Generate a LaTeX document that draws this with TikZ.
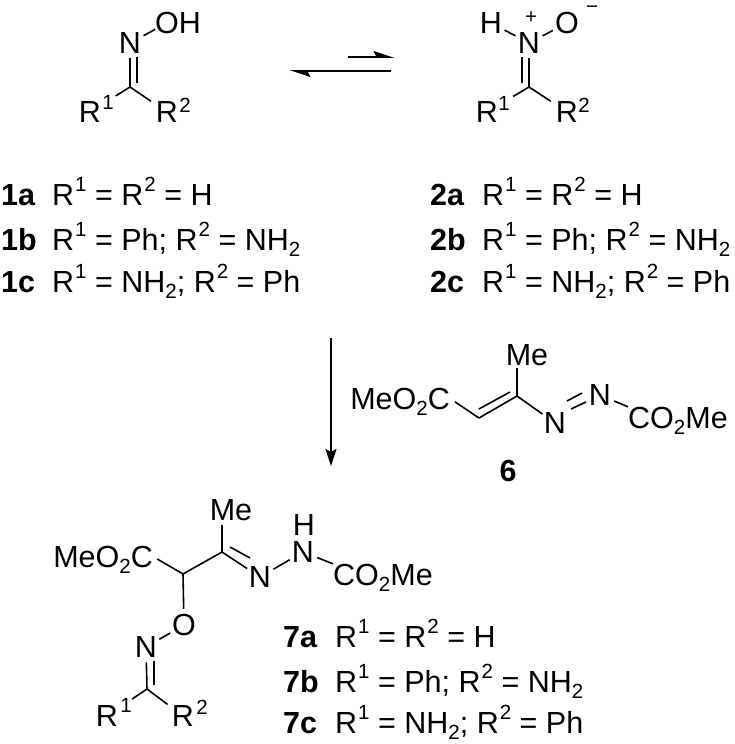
\documentclass[tikz,border=0pt]{standalone}
\usepackage{fontspec}
\setmainfont{Liberation Sans}
\usetikzlibrary{arrows.meta}
\newcommand\up[1]{\raisebox{.44em}{\kern1pt\fontsize{20.5}{22}\selectfont #1}}
\newcommand\dn[1]{\raisebox{-.22em}{\fontsize{20.5}{22}\selectfont #1}}
\tikzset{
  bond/.style={line width=1.6pt},
  atom/.style={circle,inner sep=0pt,text height=21pt,text depth=0pt,font=\fontsize{30.5}{36}\selectfont},
  txt/.style={inner sep=0pt,text height=21pt,text depth=0pt,font=\fontsize{30.5}{36}\selectfont},
  lab/.style={inner sep=0pt,anchor=base west,font=\fontsize{30.5}{36}\selectfont},
  cmp/.style={inner sep=0pt,anchor=base west,font=\fontsize{30.5}{36}\selectfont\bfseries},
  supr/.style={inner sep=0pt,font=\fontsize{20.5}{22}\selectfont},
  toRa/.style={bond,shorten >=15pt},
  toRb/.style={bond,shorten >=4pt},
  arrow/.style={line width=1.6pt,-{Stealth[length=17pt,width=11pt,inset=3pt]}},
  harp/.style={line width=1.6pt,-{Stealth[harpoon,length=18pt,width=12pt,inset=3pt]}},
}
\begin{document}
\begin{tikzpicture}[x=1pt,y=-1pt]
\useasboundingbox (0,0) rectangle (735,744);
% structure 1
\node[atom] (n1) at (130,43) {N};
\node[atom] (oh1) at (178,23) {OH};
\coordinate (o1x) at (165,24);
\coordinate (c1) at (130,87);
\coordinate (c1b) at (137,83);
\coordinate (n1b) at (137,43);
\node[atom] (r1a) at (90,112) {R};
\node[supr] (r1as) at (108,102) {1};
\node[atom] (r1b) at (167,112) {R};
\node[supr] (r1bs) at (185,105) {2};
\draw[bond,shorten >=11pt] (n1) -- (o1x);
\draw[bond] (c1) -- (n1);
\draw[bond,shorten >=14pt] (c1b) -- (n1b);
\draw[toRa] (c1) -- (r1a);
\draw[toRb] (c1) -- (r1b);
% arrows
\coordinate (ea) at (348,57); \coordinate (eb) at (394,57);
\coordinate (ec) at (391,71); \coordinate (ed) at (290,71);
\draw[harp] (ea) -- (eb);
\draw[harp] (ec) -- (ed);
% structure 2
\node[atom] (h2) at (491,23) {H};
\node[atom] (n2) at (529,43) {N};
\node[atom] (o2) at (567,23) {O};
\node[supr] (pl2) at (531,18) {+};
\node[supr] (mi2) at (592,10) {−};
\coordinate (c2) at (529,87);
\coordinate (c2b) at (522,83);
\coordinate (n2b) at (522,43);
\node[atom] (r2a) at (487,112) {R};
\node[supr] (r2as) at (504,103) {1};
\node[atom] (r2b) at (567,112) {R};
\node[supr] (r2bs) at (584,105) {2};
\draw[bond] (h2) -- (n2);
\draw[bond] (n2) -- (o2);
\draw[bond] (c2) -- (n2);
\draw[bond,shorten >=14pt] (c2b) -- (n2b);
\draw[toRa] (c2) -- (r2a);
\draw[toRb] (c2) -- (r2b);
% lists
\node[cmp] (l1a) at (1,205) {1a};
\node[lab] (t1a) at (52,205) {R\up{1} = R\up{2} = H};
\node[cmp] (l1b) at (1,250) {1b};
\node[lab] (t1b) at (52,250) {R\up{1} = Ph; R\up{2} = NH\dn{2}};
\node[cmp] (l1c) at (1,292) {1c};
\node[lab] (t1c) at (52,292) {R\up{1} = NH\dn{2}; R\up{2} = Ph};
\node[cmp] (l2a) at (430,205) {2a};
\node[lab] (t2a) at (482,205) {R\up{1} = R\up{2} = H};
\node[cmp] (l2b) at (430,250) {2b};
\node[lab] (t2b) at (482,250) {R\up{1} = Ph; R\up{2} = NH\dn{2}};
\node[cmp] (l2c) at (430,292) {2c};
\node[lab] (t2c) at (482,292) {R\up{1} = NH\dn{2}; R\up{2} = Ph};
% down arrow
\coordinate (da) at (331,338); \coordinate (db) at (331,466);
\draw[arrow] (da) -- (db);
% compound 6
\node[txt,anchor=base east] (m6a) at (450,409) {MeO\dn{2}C};
\node[atom] (me6) at (527,355) {Me};
\coordinate (v6a) at (479,418);
\coordinate (v6b) at (517,396);
\coordinate (v6c) at (479,409);
\coordinate (v6d) at (510,392);
\coordinate (me6b) at (517,355);
\node[atom] (na6) at (555,423) {N};
\node[atom] (nb6) at (600,395) {N};
\node[txt,anchor=base west] (m6b) at (628,428) {CO\dn{2}Me};
\node[cmp,anchor=base] (l6) at (508,481) {6};
\coordinate (nn1) at (567,401); \coordinate (nn2) at (582,393);
\coordinate (nn3) at (571,409); \coordinate (nn4) at (586,402);
\draw[bond,shorten >=6pt] (v6a) -- (m6a.east);
\draw[bond] (v6a) -- (v6b);
\draw[bond] (v6c) -- (v6d);
\draw[bond,shorten >=13pt] (v6b) -- (me6b);
\draw[bond] (v6b) -- (na6);
\draw[bond] (nn1) -- (nn2);
\draw[bond] (nn3) -- (nn4);
\draw[bond] (nb6) -- (m6b.north west);
% compound 7
\node[atom] (me7) at (231,510) {Me};
\node[txt,anchor=base east] (m7a) at (153,567) {MeO\dn{2}C};
\coordinate (v7a) at (183,574);
\coordinate (v7b) at (222,552);
\coordinate (v7c) at (230,547);
\coordinate (v7d) at (250,558);
\coordinate (me7b) at (222,510);
\node[atom] (na7) at (260,577) {N};
\node[atom] (nb7) at (303,552) {N};
\node[atom] (h7) at (304,525) {H};
\node[txt,anchor=base west] (m7b) at (333,585) {CO\dn{2}Me};
\node[atom] (o7) at (184,625) {O};
\node[atom] (n7) at (146,647) {N};
\coordinate (c7) at (147,689);
\coordinate (c7b) at (154,685);
\coordinate (n7b) at (154,647);
\node[atom] (r7a) at (107,716) {R};
\node[supr] (r7as) at (126,705) {1};
\node[atom] (r7b) at (183,716) {R};
\node[supr] (r7bs) at (202,707) {2};
\draw[bond,shorten >=5pt] (v7a) -- (m7a.east);
\draw[bond] (v7a) -- (v7b);
\draw[bond,shorten >=15pt] (v7b) -- (me7b);
\draw[bond] (v7b) -- (na7);
\draw[bond] (v7c) -- (v7d);
\draw[bond] (na7) -- (nb7);
\draw[bond] (nb7) -- (m7b.north west);
\draw[bond] (v7a) -- (o7);
\draw[bond] (o7) -- (n7);
\draw[bond] (c7) -- (n7);
\draw[bond,shorten >=14pt] (c7b) -- (n7b);
\draw[toRa] (c7) -- (r7a);
\draw[toRb] (c7) -- (r7b);
\node[cmp] (l7a) at (283,647) {7a};
\node[lab] (t7a) at (335,647) {R\up{1} = R\up{2} = H};
\node[cmp] (l7b) at (283,692) {7b};
\node[lab] (t7b) at (335,692) {R\up{1} = Ph; R\up{2} = NH\dn{2}};
\node[cmp] (l7c) at (283,733) {7c};
\node[lab] (t7c) at (335,733) {R\up{1} = NH\dn{2}; R\up{2} = Ph};
\end{tikzpicture}
\end{document}
